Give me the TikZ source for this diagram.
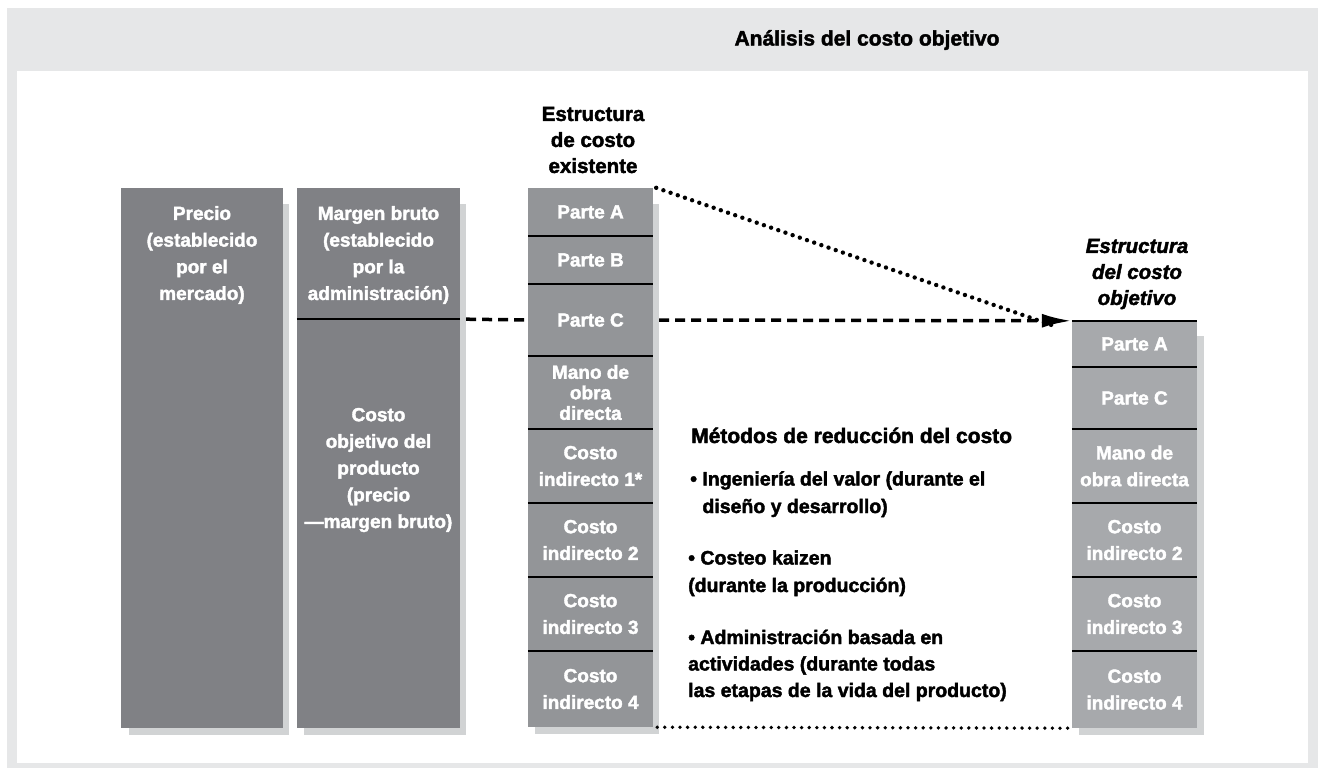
\documentclass[tikz,border=0pt]{standalone}
\usepackage{fontspec}
\setmainfont{Liberation Sans}[BoldFeatures={FakeBold=2}, BoldItalicFeatures={FakeBold=2}]
\usetikzlibrary{arrows.meta}
\definecolor{bggray}{RGB}{230,231,232}
\definecolor{shadowgray}{RGB}{209,211,212}
\definecolor{darkcol}{RGB}{128,129,133}
\definecolor{midcol}{RGB}{147,149,152}
\definecolor{lightcol}{RGB}{167,169,172}
\tikzset{
  txt/.style={font=\bfseries\fontsize{19}{26.7}\selectfont, align=center, inner sep=0pt},
  whitetxt/.style={txt, text=white},
  colbox/.style={draw=none, inner sep=0pt, minimum width=#1},
  segthree/.style={fill=midcol, draw=none, inner sep=0pt, minimum width=125pt, whitetxt},
  segfour/.style={fill=lightcol, draw=none, inner sep=0pt, minimum width=125pt, whitetxt},
  divider/.style={black, line width=1.6pt},
  dashconn/.style={black, line width=3.5pt, dash pattern=on 10pt off 6pt},
  dotconn/.style={black, line width=4.4pt, line cap=round, dash pattern=on 0pt off 7.6pt},
  dotconnb/.style={black, line width=3.8pt, line cap=round, dash pattern=on 0pt off 7.6pt},
  methtxt/.style={txt, align=left, anchor=base west, font=\bfseries\fontsize{19.5}{27.5}\selectfont},
}
\begin{document}
\begin{tikzpicture}[x=1pt, y=-1pt]
\useasboundingbox (0,0) rectangle (1321,768);
% background
\fill[bggray] (7,8) rectangle (1318,768);
\fill[white] (17,71) rectangle (1308,763);
\node[txt, font=\bfseries\fontsize{21}{24}\selectfont] (title) at (867,40) {Análisis del costo objetivo};

% shadows
\fill[shadowgray] (129,204) rectangle (289,735);
\fill[shadowgray] (304,204) rectangle (466,735);
\fill[shadowgray] (535,204) rectangle (659,734);
\fill[shadowgray] (1079,336) rectangle (1204,735);

% column 1
\node[colbox=162pt, fill=darkcol, minimum height=540pt] (precio) at (202,458) {};
\node[whitetxt] (precioT) at (202,255) {Precio\\(establecido\\por el\\mercado)};

% column 2
\node[colbox=163pt, fill=darkcol, minimum height=131pt] (margen) at (378.5,253.5) {};
\node[colbox=163pt, fill=darkcol, minimum height=409pt] (costoobj) at (378.5,523.5) {};
\node[whitetxt] (margenT) at (378.5,255) {Margen bruto\\(establecido\\por la\\administración)};
\node[whitetxt] (costoT) at (378.5,470) {Costo\\objetivo del\\producto\\(precio\\—margen bruto)};
\draw[divider] (margen.south west) -- (margen.south east);

% column 3 header
\node[txt, font=\bfseries\fontsize{20.5}{26}\selectfont] (hdrA) at (593,140) {Estructura\\de costo\\existente};

% column 3 segments
\node[segthree, minimum height=48pt] (pA) at (590.5,212) {Parte A};
\node[segthree, minimum height=48pt] (pB) at (590.5,260) {Parte B};
\node[segthree, minimum height=72pt] (pC) at (590.5,320) {Parte C};
\node[segthree, minimum height=73pt, font=\bfseries\fontsize{19}{20.5}\selectfont] (pM) at (590.5,392.5) {Mano de\\obra\\directa};
\node[segthree, minimum height=74pt] (pI1) at (590.5,466) {Costo\\indirecto 1*};
\node[segthree, minimum height=74pt] (pI2) at (590.5,540) {Costo\\indirecto 2};
\node[segthree, minimum height=74pt] (pI3) at (590.5,614) {Costo\\indirecto 3};
\node[segthree, minimum height=76pt] (pI4) at (590.5,689) {Costo\\indirecto 4};
\foreach \s in {pA,pB,pC,pM,pI1,pI2,pI3}{
  \draw[divider] (\s.south west) -- (\s.south east);
}

% column 4 header
\node[txt, font=\bfseries\itshape\fontsize{20.5}{26}\selectfont] (hdrB) at (1137,274) {Estructura\\del costo\\objetivo};

% column 4 segments
\node[segfour, minimum height=46pt] (qA) at (1134.5,344) {Parte A};
\node[segfour, minimum height=62pt] (qC) at (1134.5,398) {Parte C};
\node[segfour, minimum height=74pt] (qM) at (1134.5,466) {Mano de\\obra directa};
\node[segfour, minimum height=74pt] (qI2) at (1134.5,540) {Costo\\indirecto 2};
\node[segfour, minimum height=74pt] (qI3) at (1134.5,614) {Costo\\indirecto 3};
\node[segfour, minimum height=77pt] (qI4) at (1134.5,689.5) {Costo\\indirecto 4};
\draw[divider] (qA.north west) -- (qA.north east);
\foreach \s in {qA,qC,qM,qI2,qI3}{
  \draw[divider] (\s.south west) -- (\s.south east);
}

% connectors
\draw[dashconn] ([xshift=6pt]margen.south east) -- (pC.west);
\draw[dotconn] ([xshift=3pt]pA.north east) -- ([xshift=-18pt,yshift=-5pt]qA.north west);
\draw[dashconn, -{Latex[length=30pt,width=14pt]}] ([xshift=6pt]pC.east) -- (qA.north west);
\draw[dotconnb] ([xshift=4pt]pI4.south east) -- (qI4.south west);

% methods
\node[methtxt, font=\bfseries\fontsize{21}{27}\selectfont] (meth) at (691,443) {Métodos de reducción del costo};
\node[methtxt] (m1) at (690,513) {• Ingeniería del valor (durante el\\\phantom{• }diseño y desarrollo)};
\node[methtxt] (m2) at (688,592) {• Costeo kaizen\\(durante la producción)};
\node[methtxt, font=\bfseries\fontsize{19.5}{26.5}\selectfont] (m3) at (688,697) {• Administración basada en\\actividades (durante todas\\las etapas de la vida del producto)};
\end{tikzpicture}
\end{document}
